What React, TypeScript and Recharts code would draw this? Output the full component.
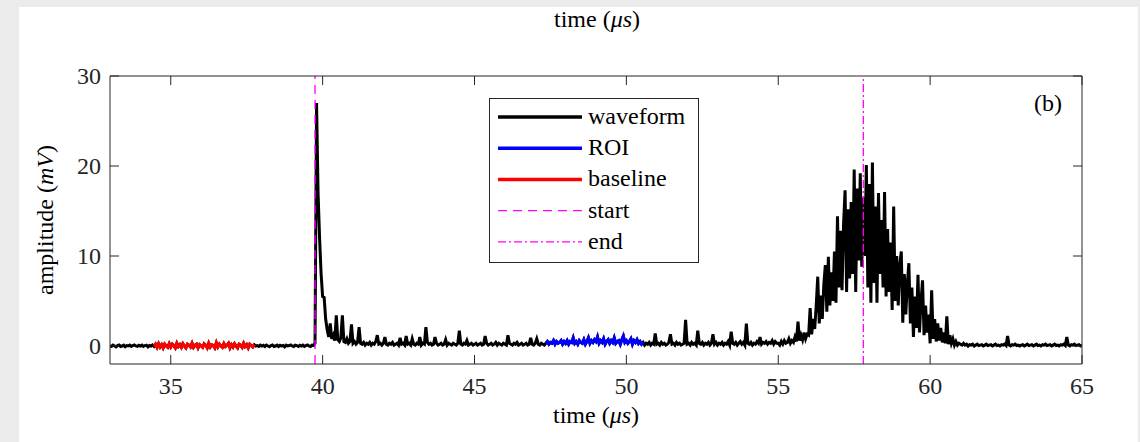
import React from 'react';
import { LineChart, Line, XAxis, YAxis, ReferenceLine, Legend } from 'recharts';

const timeStart = 33;
const timeStep = 0.05;
const waveform = [
  0.05,-0.05,0.1,0.0,-0.1,0.05,0.12,-0.05,0.0,0.1,-0.08,0.05,0.0,0.1,-0.05,0.05,0.12,0.0,-0.05,0.08,
  0.0,0.1,-0.05,0.05,0.1,-0.1,0.05,0.0,0.12,-0.05,0.2,-0.15,0.25,-0.1,0.15,-0.2,0.2,0.0,-0.15,0.25,
  -0.1,0.2,0.05,-0.2,0.3,-0.05,0.15,-0.15,0.25,0.0,-0.2,0.2,0.1,-0.1,0.3,-0.15,0.1,0.2,-0.2,0.15,
  0.0,-0.15,0.25,0.1,-0.2,0.3,-0.1,0.15,0.05,-0.2,0.35,-0.1,0.2,0.0,-0.15,0.25,-0.05,0.1,0.3,-0.2,
  0.15,-0.1,0.25,0.0,-0.2,0.2,0.1,-0.15,0.3,-0.05,0.15,-0.2,0.2,0.05,-0.1,0.15,0.0,0.05,-0.05,0.1,
  0.0,0.08,-0.05,0.1,0.0,-0.08,0.05,0.12,-0.05,0.0,0.1,-0.05,0.08,0.0,0.05,-0.1,0.1,0.0,0.05,0.12,
  0.0,-0.05,0.1,0.05,-0.05,0.08,0.0,0.1,-0.05,0.05,0.12,0.0,-0.05,0.1,0.05,0.3,27.0,17.0,12.0,8.0,
  5.5,5.4,3.0,1.8,1.0,2.5,0.8,1.2,0.6,3.4,0.7,0.5,0.9,3.4,0.5,0.4,0.8,0.3,0.5,2.4,
  0.3,0.5,0.2,0.4,2.1,0.3,0.2,0.4,0.1,0.3,0.2,0.4,0.1,0.3,0.2,0.5,1.2,0.2,0.3,0.1,
  0.3,1.0,0.2,0.1,0.3,0.2,0.4,0.1,0.2,0.3,0.1,0.9,0.2,0.3,0.1,1.1,0.2,0.3,0.1,0.8,
  0.2,0.1,0.3,0.2,1.0,0.1,0.3,0.2,2.1,0.4,0.2,0.3,0.1,0.2,1.0,0.3,0.1,0.2,0.3,0.1,
  0.2,0.7,0.1,0.3,0.2,0.1,0.3,0.2,0.1,0.3,1.7,0.2,0.1,0.3,0.2,0.6,0.1,0.2,0.3,0.1,
  0.2,0.3,0.1,0.2,0.3,0.1,0.2,1.1,0.3,0.1,0.2,0.3,0.1,0.2,0.4,0.1,0.3,0.2,0.1,0.3,
  0.2,0.1,1.2,0.3,0.2,0.1,0.3,0.2,0.4,0.1,0.2,0.3,0.1,0.2,0.3,0.1,0.2,0.9,0.2,0.1,
  0.3,0.8,0.2,0.1,0.3,0.2,0.1,0.3,0.5,0.2,0.4,0.3,0.6,0.2,0.5,0.3,0.4,0.6,0.2,0.5,
  0.3,0.6,0.2,0.5,0.4,0.9,0.3,0.5,0.2,0.6,0.4,0.3,0.7,0.2,0.5,0.9,0.3,0.6,0.4,0.7,
  0.5,1.0,0.3,0.6,0.4,0.8,0.2,0.5,0.7,0.3,0.6,0.4,0.9,0.3,0.5,0.6,0.2,0.7,1.1,0.4,
  0.6,0.3,0.5,0.8,0.2,0.6,0.4,0.7,0.3,0.5,0.2,0.4,0.1,0.3,0.2,0.4,0.1,0.3,0.2,1.4,
  0.2,0.3,0.1,0.4,0.2,0.3,0.1,0.2,0.4,1.3,0.2,0.3,0.1,0.4,0.2,0.3,0.1,0.2,0.3,2.9,
  0.2,0.3,0.1,0.4,0.2,0.3,0.1,1.7,0.3,0.2,0.4,0.1,0.3,0.2,0.4,0.1,0.3,1.3,0.2,0.4,
  0.1,0.3,0.2,0.4,0.1,0.3,0.2,0.5,0.1,1.6,0.3,0.2,0.4,0.1,0.3,0.5,0.2,0.4,0.1,2.5,
  0.3,0.2,0.4,0.1,0.3,0.2,0.5,0.3,1.0,0.2,0.4,0.3,0.5,0.2,0.4,0.3,0.6,0.2,0.5,0.3,
  0.3,0.1,0.5,0.2,0.6,0.3,0.4,0.8,0.3,0.6,0.4,1.0,0.5,2.7,0.6,1.2,0.7,1.5,0.8,1.3,
  1.2,4.2,1.3,3.0,1.9,4.5,7.7,2.5,5.6,3.0,6.8,9.0,3.8,9.9,4.5,8.2,5.0,10.5,4.8,14.4,
  6.5,12.8,6.2,13.5,17.3,6.0,15.2,7.5,16.0,8.0,19.6,6.0,17.5,9.5,19.2,8.8,16.5,10.0,20.1,6.5,
  18.0,4.8,20.4,7.0,15.5,4.8,17.0,8.0,14.0,6.5,17.1,5.5,13.0,6.0,11.5,4.0,15.5,5.0,10.0,4.5,
  9.0,10.5,2.6,8.0,3.5,7.0,9.2,2.5,6.5,1.0,5.5,2.0,7.9,1.5,5.0,7.3,1.2,4.5,1.5,3.5,
  0.3,6.2,0.8,3.0,0.5,2.5,0.6,2.0,0.4,1.5,0.3,3.3,0.2,1.2,0.3,0.8,0.1,0.5,0.1,0.3,
  0.2,0.1,0.3,0.1,0.2,0.0,0.15,0.1,0.2,0.0,0.1,0.2,0.05,0.1,0.15,0.0,0.1,0.2,0.05,0.1,
  0.15,0.0,0.1,0.2,0.05,0.1,0.0,0.15,0.1,0.2,0.05,1.1,0.1,0.0,0.15,0.1,0.2,0.05,0.1,0.0,
  0.1,0.15,0.0,0.1,0.2,0.05,0.1,0.15,0.0,0.1,0.2,0.05,0.1,0.0,0.15,0.1,0.2,0.05,0.1,0.15,
  0.0,0.1,0.2,0.05,0.1,0.0,0.15,0.1,0.2,0.05,1.0,0.1,0.0,0.15,0.1,0.2,0.05,0.1,0.15,0.0,
  0.1,
];
const baselineWindow = [34.45, 37.75];
const roiWindow = [47.35, 50.55];
const startTime = 39.75;
const endTime = 57.8;
const xTicks = [35, 40, 45, 50, 55, 60, 65];
const yTicks = [0, 10, 20, 30];
const xDomain = [33, 65];
const yDomain = [-2, 30];

const legendItems = [
  { label: 'waveform', color: '#000000', width: 3.5, dash: undefined as string | undefined },
  { label: 'ROI', color: '#0000ff', width: 3.5, dash: undefined },
  { label: 'baseline', color: '#ff0000', width: 3.5, dash: undefined },
  { label: 'start', color: '#ff00ff', width: 1.2, dash: '9 6' },
  { label: 'end', color: '#ff00ff', width: 1.2, dash: '8 3 2 3' },
];

const FONT = "'Liberation Serif', 'Times New Roman', serif";
const AX = '#262626';
const TICK = 9;

const round2 = (v: number) => Math.round(v * 100) / 100;
const inWin = (t: number, w: number[]) => t >= w[0] - 1e-9 && t <= w[1] + 1e-9;

const table = waveform.map((w, i) => {
  const t = round2(timeStart + i * timeStep);
  return {
    t,
    w,
    roi: inWin(t, roiWindow) ? w : null,
    base: inWin(t, baselineWindow) ? w : null,
  };
});

const BottomTick = (p: any) => (
  <g>
    <line x1={p.x} y1={p.y} x2={p.x} y2={p.y - TICK} stroke={AX} strokeWidth={1} />
    <text x={p.x} y={p.y + 30} textAnchor="middle" fontFamily={FONT} fontSize={24} fill={AX}>
      {p.payload.value}
    </text>
  </g>
);
const TopTick = (p: any) => (
  <line x1={p.x} y1={p.y} x2={p.x} y2={p.y + TICK} stroke={AX} strokeWidth={1} />
);
const LeftTick = (p: any) => (
  <g>
    <line x1={p.x} y1={p.y} x2={p.x + TICK} y2={p.y} stroke={AX} strokeWidth={1} />
    <text x={p.x - 9} y={p.y + 8} textAnchor="end" fontFamily={FONT} fontSize={24} fill={AX}>
      {p.payload.value}
    </text>
  </g>
);
const RightTick = (p: any) => (
  <line x1={p.x} y1={p.y} x2={p.x - TICK} y2={p.y} stroke={AX} strokeWidth={1} />
);

const renderLegend = () => (
  <svg width={211} height={166} style={{ display: 'block' }}>
    <rect x={0.5} y={0.5} width={209} height={164} fill="#ffffff" stroke={AX} strokeWidth={1} />
    {legendItems.map((it, i) => {
      const cy = 19 + i * 31.2;
      return (
        <g key={it.label}>
          <line x1={9} y1={cy} x2={93} y2={cy} stroke={it.color} strokeWidth={it.width} strokeDasharray={it.dash} />
          <text x={99} y={cy + 7} fontFamily={FONT} fontSize={24} fill="#000">{it.label}</text>
        </g>
      );
    })}
  </svg>
);

export default function App() {
  return (
    <div style={{ position: 'fixed', left: 0, top: 0, width: 1140, height: 442, background: '#ebebeb', overflow: 'hidden' }}>
      <div style={{ position: 'absolute', left: 19, top: 7, width: 1119, height: 435, background: '#ffffff' }} />
      <div style={{ position: 'absolute', left: 0, top: 0 }}>
        <LineChart
          width={1140}
          height={442}
          data={table}
          margin={{ left: 80, right: 48, top: 66, bottom: 48 }}
        >
          <XAxis
            dataKey="t"
            type="number"
            domain={xDomain}
            ticks={xTicks}
            allowDataOverflow
            interval={0}
            height={30}
            tickSize={0}
            tickMargin={0}
            tickLine={false}
            tick={<BottomTick />}
            axisLine={{ stroke: AX, strokeWidth: 1 }}
          />
          <XAxis
            xAxisId="top"
            orientation="top"
            dataKey="t"
            type="number"
            domain={xDomain}
            ticks={xTicks}
            allowDataOverflow
            interval={0}
            height={10}
            tickSize={0}
            tickMargin={0}
            tickLine={false}
            tick={<TopTick />}
            axisLine={{ stroke: AX, strokeWidth: 1 }}
          />
          <YAxis
            type="number"
            domain={yDomain}
            ticks={yTicks}
            allowDataOverflow
            interval={0}
            width={30}
            tickSize={0}
            tickMargin={0}
            tickLine={false}
            tick={<LeftTick />}
            axisLine={{ stroke: AX, strokeWidth: 1 }}
          />
          <YAxis
            yAxisId="right"
            orientation="right"
            type="number"
            domain={yDomain}
            ticks={yTicks}
            allowDataOverflow
            interval={0}
            width={10}
            tickSize={0}
            tickMargin={0}
            tickLine={false}
            tick={<RightTick />}
            axisLine={{ stroke: AX, strokeWidth: 1 }}
          />
          <Line dataKey="w" stroke="#000000" strokeWidth={3} dot={false} isAnimationActive={false} />
          <Line dataKey="roi" stroke="#0000ff" strokeWidth={3} dot={false} isAnimationActive={false} connectNulls={false} />
          <Line dataKey="base" stroke="#ff0000" strokeWidth={3} dot={false} isAnimationActive={false} connectNulls={false} />
          <ReferenceLine x={startTime} stroke="#ff00ff" strokeWidth={1.3} strokeDasharray="9 6" />
          <ReferenceLine x={endTime} stroke="#ff00ff" strokeWidth={1.3} strokeDasharray="8 3 2 3" />
          <Legend
            layout="vertical"
            align="center"
            verticalAlign="middle"
            content={renderLegend}
            wrapperStyle={{ position: 'absolute', left: 489, top: 98, width: 211, height: 166 }}
          />
          <text x={1048} y={111} textAnchor="middle" fontFamily={FONT} fontSize={24} fill="#000">(b)</text>
          <text x={596} y={423} textAnchor="middle" fontFamily={FONT} fontSize={24} fill="#000">
            time (<tspan fontStyle="italic">μs</tspan>)
          </text>
          <text x={597} y={27} textAnchor="middle" fontFamily={FONT} fontSize={24} fill="#000">
            time (<tspan fontStyle="italic">μs</tspan>)
          </text>
          <text x={53} y={220} textAnchor="middle" fontFamily={FONT} fontSize={24} fill="#000" transform="rotate(-90 53 220)">
            amplitude (<tspan fontStyle="italic">mV</tspan>)
          </text>
        </LineChart>
      </div>
    </div>
  );
}
